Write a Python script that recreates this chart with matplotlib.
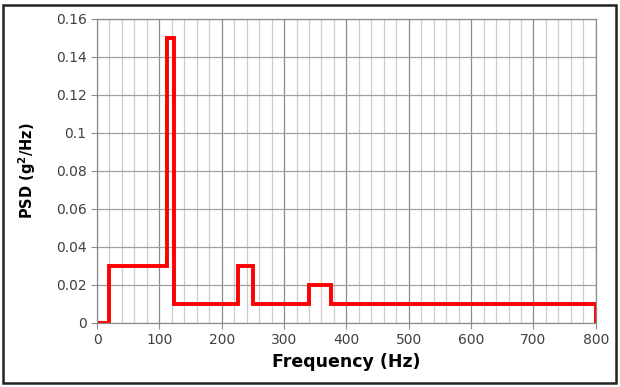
import matplotlib
matplotlib.use("Agg")
import matplotlib.pyplot as plt
from matplotlib.patches import Rectangle

# breakpoints of the step profile (Hz) and PSD level (g^2/Hz)
freq = [0, 20, 20, 113, 113, 124, 124, 226, 226, 250, 250, 340, 340, 375, 375, 800, 800]
psd = [0, 0, 0.03, 0.03, 0.15, 0.15, 0.01, 0.01, 0.03, 0.03, 0.01, 0.01, 0.02, 0.02, 0.01, 0.01, 0]

x_ticks = [0, 100, 200, 300, 400, 500, 600, 700, 800]
y_ticks = [0, 0.02, 0.04, 0.06, 0.08, 0.1, 0.12, 0.14, 0.16]
y_labels = ["0", "0.02", "0.04", "0.06", "0.08", "0.1", "0.12", "0.14", "0.16"]

fig = plt.figure(figsize=(6.2, 3.87), dpi=100)
ax = fig.add_axes([0.1565, 0.1654, 0.8045, 0.7856])

ax.plot(freq, psd, color="#ff0000", lw=2.8, solid_joinstyle="miter")

ax.set_xlim(0, 800)
ax.set_ylim(0, 0.16)
ax.set_xticks(x_ticks)
ax.set_xticks(range(0, 801, 20), minor=True)
ax.set_yticks(y_ticks)
ax.set_yticklabels(y_labels)
ax.grid(which="major", axis="x", color="#8c8c8c", lw=0.9)
ax.grid(which="major", axis="y", color="#a0a0a0", lw=0.9)
ax.grid(which="minor", axis="x", color="#cccccc", lw=0.9)
ax.set_axisbelow(True)
ax.tick_params(which="major", labelsize=10, colors="#404040", length=4, color="#8c8c8c")
ax.tick_params(which="minor", length=0)
for s in ax.spines.values():
    s.set_color("#8c8c8c")
    s.set_linewidth(0.9)

ax.set_xlabel("Frequency (Hz)", fontsize=12.5, fontweight="bold", labelpad=4)
ax.set_ylabel("PSD (g$^\\mathbf{2}$/Hz)", fontsize=10.5, fontweight="bold", labelpad=13)

# outer border of the chart
fig.patches.append(Rectangle((3 / 620, 4 / 387), 613 / 620, 378 / 387,
                             transform=fig.transFigure, fill=False,
                             edgecolor="#222222", lw=1.8))

fig.savefig("out.png", dpi=100)
